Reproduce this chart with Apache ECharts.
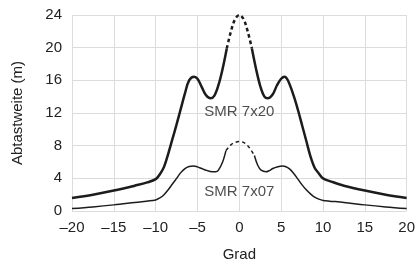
<!DOCTYPE html>
<html>
<head>
<meta charset="utf-8">
<script src="https://cdn.jsdelivr.net/npm/echarts@6/dist/echarts.min.js"></script>
<style>html,body{margin:0;padding:0;background:#fff}#c{width:418px;height:268px}</style>
</head>
<body>
<div id="c"></div>
<script>
// SMR 7x20
const grad720 = [-20,-17.5,-15,-12.5,-11,-10,-9.5,-9,-8.5,-8,-7.5,-7,-6.5,-6,-5.4,-5,-4.5,-4,-3.45,-3,-2.5,-2,-1.5,-1,-0.5,0,0.5,1,1.5,2,2.5,3,3.4,4,4.5,5,5.4,5.8,6.5,7,7.5,8,8.5,9,9.5,10,11,12.5,15,17.5,20];
const abst720 = [1.6,2.0,2.5,3.1,3.5,3.9,4.5,5.4,7.0,8.8,10.6,12.5,14.4,16.0,16.45,16.2,15.2,14.2,13.8,14.1,15.4,17.4,19.9,22.0,23.5,24.0,23.5,22.0,19.9,17.4,15.3,14.0,13.8,14.3,15.4,16.2,16.45,16.0,14.1,12.4,10.5,8.6,6.7,5.3,4.6,4.0,3.6,3.1,2.5,2.0,1.6];
const dash720 = [-1.5, 1.5];
// SMR 7x07
const grad707 = [-20,-17.5,-15,-12.5,-10,-9.5,-9,-8.5,-8,-7.5,-7,-6.5,-6,-5.5,-5,-4.5,-4,-3.5,-2.8,-2.5,-2,-1.6,-1,-0.5,0,0.5,1,1.5,1.8,2.2,2.6,3.2,3.5,4,4.5,5.2,5.5,6,6.5,7,7.5,8,8.5,9,9.5,10,12.5,15,17.5,20];
const abst707 = [0.3,0.5,0.75,1.05,1.35,1.6,2.0,2.6,3.3,4.0,4.7,5.2,5.45,5.5,5.4,5.2,5.0,4.85,4.8,5.0,6.0,7.4,8.1,8.4,8.5,8.4,8.0,7.3,6.8,5.6,5.0,4.8,4.9,5.2,5.4,5.5,5.45,5.15,4.6,3.9,3.2,2.6,2.1,1.7,1.45,1.3,1.05,0.75,0.5,0.3];
const dash707 = [-1.6, 1.8];
const labels = [{name:'SMR 7x20', x:0, y:12.1}, {name:'SMR 7x07', x:0, y:2.3}];
const xTicks = {min:-20, max:20, interval:5};
const yTicks = {min:0, max:24, interval:4};

const FONT = 'Liberation Sans, Arial, sans-serif';
const INK = '#1c1c1c';
const TXT = '#222';
function pairs(xs, ys, f){ const out=[]; xs.forEach((x,i)=>{ if(f(x)) out.push([x, ys[i]]); }); return out; }
function curve(xs, ys, rng, w){
  const base = {type:'line', smooth:0.35, symbol:'none', silent:true, lineStyle:{color:INK, width:w}};
  return [
    Object.assign({}, base, {data: pairs(xs, ys, x=>x<=rng[0])}),
    Object.assign({}, base, {data: pairs(xs, ys, x=>x>=rng[0] && x<=rng[1]), lineStyle:{color:INK, width:w, type:[3.5,3]}}),
    Object.assign({}, base, {data: pairs(xs, ys, x=>x>=rng[1])})
  ];
}
const chart = echarts.init(document.getElementById('c'), null, {renderer:'canvas'});
chart.setOption({
  animation:false,
  grid:{left:72, right:10, top:15, bottom:57},
  xAxis:{type:'value', min:xTicks.min, max:xTicks.max, interval:xTicks.interval,
    name:'Grad', nameLocation:'middle', nameGap:36,
    nameTextStyle:{fontFamily:FONT, fontSize:15, color:TXT},
    axisLine:{show:false}, axisTick:{show:false},
    axisLabel:{fontFamily:FONT, fontSize:15, color:TXT, margin:9, formatter:v=>String(v).replace('-','\u2013')},
    splitLine:{show:true, lineStyle:{color:'#dcdcdc', width:1}}},
  yAxis:{type:'value', min:yTicks.min, max:yTicks.max, interval:yTicks.interval,
    name:'Abtastweite (m)', nameLocation:'middle', nameGap:47,
    nameTextStyle:{fontFamily:FONT, fontSize:15, color:TXT},
    axisLine:{show:false}, axisTick:{show:false},
    axisLabel:{fontFamily:FONT, fontSize:15, color:TXT, margin:10},
    splitLine:{show:true, lineStyle:{color:'#dcdcdc', width:1}}},
  series:[
    ...curve(grad720, abst720, dash720, 2.5),
    ...curve(grad707, abst707, dash707, 1.5),
    {type:'scatter', symbolSize:0, silent:true,
     data: labels.map(l=>({name:l.name, value:[l.x, l.y]})),
     label:{show:true, position:'inside', formatter:p=>p.name, fontFamily:FONT, fontSize:15, color:TXT}}
  ]
});
</script>
</body>
</html>
